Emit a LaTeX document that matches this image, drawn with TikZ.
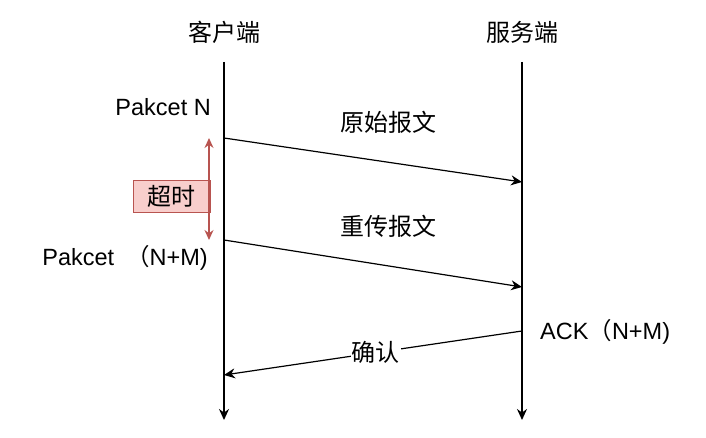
\documentclass[tikz,border=0pt]{standalone}
\usepackage{fontspec}
\setmainfont{Liberation Sans}
\newfontfamily\cjk{Noto Sans CJK SC}
\usetikzlibrary{arrows.meta,positioning}
\definecolor{tored}{HTML}{B85450}
\definecolor{tofill}{HTML}{F8CECC}
\tikzset{
  life/.style={-{Stealth[length=11pt,width=10pt]},line width=1.6pt},
  msg/.style={-{Stealth[length=11pt,width=10pt]},line width=1.2pt},
  lbl/.style={font=\fontsize{23.5}{28}\selectfont,inner sep=1pt},
  cjklbl/.style={font=\fontsize{24}{28}\selectfont\cjk,inner sep=1pt},
  tobox/.style={draw=tored,fill=tofill,minimum width=77pt,minimum height=32pt,inner sep=0pt,font=\fontsize{24}{28}\selectfont\cjk},
  toar/.style={{Stealth[length=10pt,width=9pt]}-{Stealth[length=10pt,width=9pt]},draw=tored,line width=1.4pt},
}

\begin{document}
\begin{tikzpicture}[x=1pt,y=-1pt]
\useasboundingbox (0,0) rectangle (706,438);
% the two sides
\node[cjklbl] (client) at (224,32) {客户端};
\node[cjklbl] (server) at (522,32) {服务端};
\coordinate (cTop) at (224,62);
\coordinate (cBot) at (224,420);
\coordinate (sTop) at (522,62);
\coordinate (sBot) at (522,420);
\draw[life] (cTop) -- (cBot);
\draw[life] (sTop) -- (sBot);
% message ends
\coordinate (sendA) at (224,138);
\coordinate (recvA) at (522,182);
\coordinate (sendB) at (224,240);
\coordinate (recvB) at (522,287);
\coordinate (ackOut) at (522,331);
\coordinate (ackIn) at (224,375);
\draw[msg] (sendA) -- (recvA);
\draw[msg] (sendB) -- (recvB);
\draw[msg] (ackOut) -- node[cjklbl,pos=0.49,fill=white] (ackmsg) {确认} (ackIn);
\node[cjklbl] (orig) at (388,122) {原始报文};
\node[cjklbl] (resend) at (388,226) {重传报文};
% packet labels
\node[lbl,anchor=east] (pktN) at (212,107) {Pakcet N};
\node[lbl,anchor=east] (pktNM) at (209,258) {Pakcet\hspace{12pt}{\cjk （}N+M)};
\node[lbl,anchor=west] (ackNM) at (539,332) {ACK{\cjk （}N+M)};
% timeout
\node[tobox] (tout) at (171.5,196) {超时};
\coordinate (toTop) at (209,138);
\coordinate (toBot) at (209,240);
\draw[toar] (toTop) -- (toBot);
\end{tikzpicture}
\end{document}
